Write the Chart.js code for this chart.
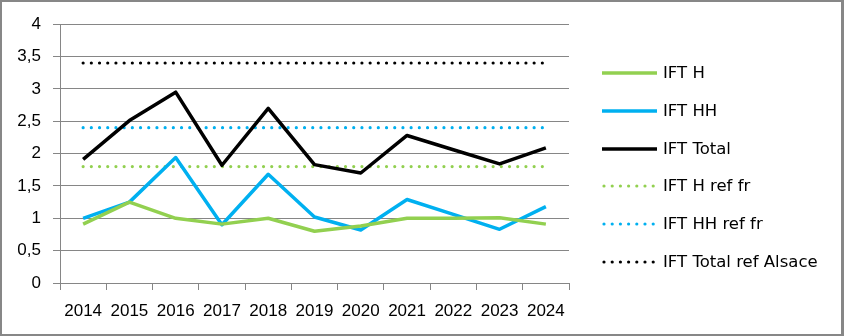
<!DOCTYPE html>
<html>
<head>
<meta charset="utf-8">
<script src="https://cdn.jsdelivr.net/npm/chart.js@4"></script>
<style>
  html, body { margin: 0; padding: 0; background: #fff; }
  #wrap { width: 844px; height: 336px; box-sizing: border-box; border: 2px solid #878787; border-right-width: 3px; }
  canvas { display: block; }
</style>
</head>
<body>
<div id="wrap"><canvas id="chart" width="839" height="332"></canvas></div>
<script>
// Données
const years = ['2014', '2015', '2016', '2017', '2018', '2019', '2020', '2021', '2022', '2023', '2024'];
const iftH = [0.91, 1.25, 1.0, 0.91, 1.0, 0.8, 0.88, 1.0, 1.0, 1.01, 0.91];
const iftHH = [1.0, 1.25, 1.94, 0.9, 1.68, 1.02, 0.82, 1.29, 1.06, 0.83, 1.18];
const iftTotal = [1.91, 2.51, 2.95, 1.82, 2.7, 1.83, 1.7, 2.28, 2.06, 1.84, 2.09];
const refHfr = [1.8, 1.8, 1.8, 1.8, 1.8, 1.8, 1.8, 1.8, 1.8, 1.8, 1.8];
const refHHfr = [2.4, 2.4, 2.4, 2.4, 2.4, 2.4, 2.4, 2.4, 2.4, 2.4, 2.4];
const refTotalAlsace = [3.4, 3.4, 3.4, 3.4, 3.4, 3.4, 3.4, 3.4, 3.4, 3.4, 3.4];
const yTicks = ['0', '0,5', '1', '1,5', '2', '2,5', '3', '3,5', '4'];

const GREEN = '#92D050';
const BLUE = '#00B0F0';
const AXIS = '#868686';
const FONT = '"Liberation Sans", Arial, sans-serif';
const LEGEND_FONT = '"DejaVu Sans", sans-serif';

function solid(label, data, color) {
    return { label, data, borderColor: color, backgroundColor: color, borderWidth: 3.5,
        pointRadius: 0, tension: 0, borderJoinStyle: 'round', borderCapStyle: 'butt', fill: false };
}
function dotted(label, data, color) {
    return { label, data, borderColor: color, backgroundColor: color, borderWidth: 3.2,
        borderDash: [0, 8.2], borderCapStyle: 'round', pointRadius: 0, fill: false, dotted: true };
}

// Légende dessinée à droite
const sideLegend = {
    id: 'sideLegend',
    afterDraw(chart) {
        const c = chart.ctx;
        const rowY = [71, 109, 147, 184, 222, 260];
        chart.data.datasets.forEach((ds, i) => {
            const y = rowY[i];
            c.save();
            c.strokeStyle = ds.borderColor;
            c.fillStyle = ds.borderColor;
            if (ds.dotted) {
                for (let k = 0; k < 7; k++) {
                    c.beginPath();
                    c.arc(602 + k * 8.2, y, 1.6, 0, Math.PI * 2);
                    c.fill();
                }
            } else {
                c.lineWidth = 3.5;
                c.beginPath();
                c.moveTo(600, y);
                c.lineTo(655, y);
                c.stroke();
            }
            c.fillStyle = '#000';
            c.font = '16.5px ' + LEGEND_FONT;
            c.textBaseline = 'middle';
            c.fillText(ds.label, 661, y + 1);
            c.restore();
        });
    }
};

const ctx = document.getElementById('chart').getContext('2d');
new Chart(ctx, {
    type: 'line',
    data: {
        labels: years,
        datasets: [
            solid('IFT H', iftH, GREEN),
            solid('IFT HH', iftHH, BLUE),
            solid('IFT Total', iftTotal, '#000'),
            dotted('IFT H ref fr', refHfr, GREEN),
            dotted('IFT HH ref fr', refHHfr, BLUE),
            dotted('IFT Total ref Alsace', refTotalAlsace, '#000')
        ]
    },
    options: {
        responsive: false,
        animation: false,
        layout: { padding: { left: 0, top: 22, right: 272, bottom: 0 } },
        plugins: { legend: { display: false }, tooltip: { enabled: false } },
        scales: {
            x: {
                offset: true,
                grid: { offset: true, drawOnChartArea: false, drawTicks: true, tickLength: 7, color: AXIS, lineWidth: 1 },
                border: { display: true, color: AXIS },
                ticks: { color: '#000', font: { family: FONT, size: 17 }, padding: 11, maxRotation: 0, autoSkip: false },
                afterFit(scale) { scale.height = 51; }
            },
            y: {
                min: 0,
                max: 4,
                grid: { color: AXIS, lineWidth: 1, tickLength: 7 },
                border: { display: true, color: AXIS },
                ticks: {
                    stepSize: 0.5,
                    color: '#000',
                    font: { family: FONT, size: 17 },
                    padding: 12,
                    callback: (v, i) => yTicks[i]
                },
                afterFit(scale) { scale.width = 58; }
            }
        }
    },
    plugins: [sideLegend]
});
</script>
</body>
</html>
